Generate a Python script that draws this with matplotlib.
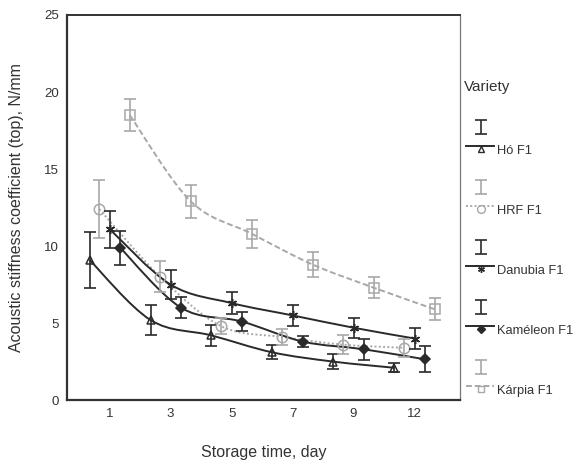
import matplotlib
matplotlib.use("Agg")
import matplotlib.pyplot as plt
import numpy as np
from matplotlib.path import Path
from matplotlib.patches import PathPatch

plt.rcParams["font.family"] = ["Liberation Sans", "DejaVu Sans"]

days = ["1", "3", "5", "7", "9", "12"]
varieties = ["Hó F1", "HRF F1", "Danubia F1", "Kaméleon F1", "Kárpia F1"]

ho_mean = [9.1, 5.2, 4.2, 3.1, 2.5, 2.1]
ho_err = [1.8, 1.0, 0.7, 0.45, 0.5, 0.3]
hrf_mean = [12.4, 8.0, 4.8, 4.1, 3.6, 3.4]
hrf_err = [1.9, 1.0, 0.5, 0.5, 0.6, 0.6]
danubia_mean = [11.1, 7.5, 6.3, 5.5, 4.7, 4.0]
danubia_err = [1.2, 0.95, 0.7, 0.7, 0.65, 0.7]
kameleon_mean = [9.9, 6.0, 5.1, 3.8, 3.3, 2.65]
kameleon_err = [1.1, 0.7, 0.6, 0.35, 0.7, 0.85]
karpia_mean = [18.5, 12.9, 10.8, 8.8, 7.3, 5.9]
karpia_err = [1.05, 1.05, 0.9, 0.8, 0.7, 0.7]

means = [ho_mean, hrf_mean, danubia_mean, kameleon_mean, karpia_mean]
errs = [ho_err, hrf_err, danubia_err, kameleon_err, karpia_err]

offsets = [-0.33, -0.17, 0.0, 0.17, 0.33]
dark = "#2a2a2a"
light = "#a8a8a8"
styles = [
    dict(color=dark, ls="-", marker="^", mfc="none", ms=5.5),
    dict(color=light, ls=(0, (1, 1.2)), marker="o", mfc="none", ms=7.5),
    dict(color=dark, ls="-", marker=(6, 2, 0), mfc=dark, ms=6.5),
    dict(color=dark, ls="-", marker="D", mfc=dark, ms=5),
    dict(color=light, ls=(0, (3, 1.5)), marker="s", mfc="none", ms=6.5),
]


def smooth_path(x, y):
    pts = np.column_stack([x, y])
    n = len(pts)
    verts = [pts[0]]
    codes = [Path.MOVETO]
    for i in range(n - 1):
        p0 = pts[max(i - 1, 0)]
        p1 = pts[i]
        p2 = pts[i + 1]
        p3 = pts[min(i + 2, n - 1)]
        verts += [p1 + (p2 - p0) / 6, p2 - (p3 - p1) / 6, p2]
        codes += [Path.CURVE4] * 3
    return Path(verts, codes)


fig = plt.figure(figsize=(5.8, 4.68), dpi=100)
ax = fig.add_axes([0.1155, 0.145, 0.678, 0.823])

xpos = np.arange(1, len(days) + 1)
for m, e, off, st in zip(means, errs, offsets, styles):
    x = xpos + off
    ax.add_patch(PathPatch(smooth_path(x, np.array(m)), fill=False,
                           edgecolor=st["color"], lw=1.4, ls=st["ls"]))
    ax.errorbar(x, m, yerr=e, fmt="none", ecolor=st["color"], elinewidth=1.2,
                capsize=4, capthick=1.2)
    ax.plot(x, m, ls="none", marker=st["marker"], color=st["color"],
            mfc=st["mfc"], mec=st["color"], ms=st["ms"], mew=1.1)

ax.set_xlim(0.3, 6.75)
ax.set_ylim(0, 25)
ax.set_xticks(xpos)
ax.set_xticklabels(days)
ax.set_yticks([0, 5, 10, 15, 20, 25])
ax.tick_params(axis="both", length=0, labelsize=9.5, colors="#333333", pad=6)
for side in ["left", "bottom"]:
    ax.spines[side].set_linewidth(1.6)
    ax.spines[side].set_color("#333333")
ax.spines["top"].set_linewidth(1.4)
ax.spines["top"].set_color("#333333")
ax.spines["right"].set_linewidth(0.9)
ax.spines["right"].set_color("#777777")

ax.set_xlabel("Storage time, day", fontsize=11.5, color="#333333", labelpad=18)
ax.set_ylabel("Acoustic stiffness coefficient (top), N/mm", fontsize=11.5,
              color="#333333", labelpad=14)

# legend drawn in pixel units
lg = fig.add_axes([0.795, 0, 0.205, 1])
lg.set_xlim(461, 580)
lg.set_ylim(468, 0)
lg.axis("off")
lg.text(464, 87, "Variety", fontsize=11, color="#333333", va="center", ha="left")
for i, (name, st) in enumerate(zip(varieties, styles)):
    yb = 146 + i * 60
    lg.errorbar([481], [yb - 19], yerr=[7], fmt="none", ecolor=st["color"],
                elinewidth=1.2, capsize=4, capthick=1.2)
    lg.plot([466, 494], [yb, yb], color=st["color"], ls=st["ls"], lw=1.4)
    lg.plot([481], [yb + 3], ls="none", marker=st["marker"], color=st["color"],
            mfc=st["mfc"], mec=st["color"], ms=st["ms"] * 0.75, mew=1.0)
    lg.text(497, yb + 5, name, fontsize=9.3, color="#333333", va="center", ha="left")

fig.savefig("out.png", dpi=100)
